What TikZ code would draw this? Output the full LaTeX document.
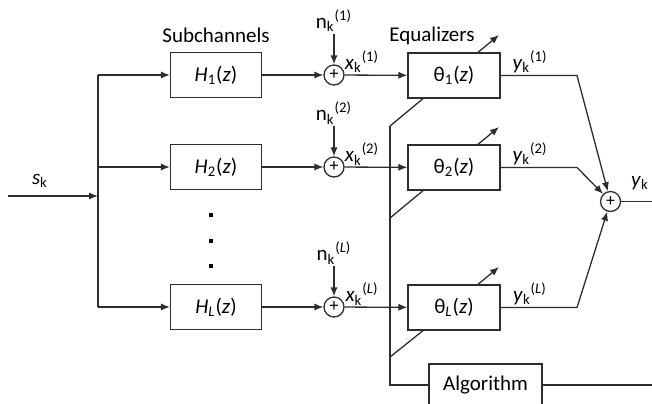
\documentclass[tikz,border=0pt]{standalone}
\usepackage{fontspec}
\setmainfont{Carlito}
\usetikzlibrary{arrows.meta,calc}
\definecolor{lc}{RGB}{45,45,45}
\newcommand{\supk}[1]{\textsubscript{k}\textsuperscript{(#1)}}
\begin{document}
\begin{tikzpicture}[x=0.5pt,y=-0.5pt,
  ln/.style={draw=lc, line width=0.65pt},
  arr/.style={ln, -{Latex[length=4.5pt,width=3.6pt]}},
  blk/.style={draw=lc, line width=0.65pt, minimum width=45.5pt, minimum height=22.5pt, inner sep=0pt, font=\fontsize{10.5}{12}\selectfont},
  sumnode/.style={circle, draw=lc, line width=0.65pt, minimum size=10pt, inner sep=0pt, font=\fontsize{9}{9}\selectfont},
  lbl/.style={inner sep=1pt, font=\fontsize{10.5}{12}\selectfont},
  dotsq/.style={rectangle, fill=black, minimum size=1.9pt, inner sep=0pt}]
\useasboundingbox (0,0) rectangle (652,403);
\clip (0,0) rectangle (652,403);
% input and split
\coordinate (in) at (8,196);
\coordinate (sp) at (98,196);
\coordinate (b1) at (98,75);
\coordinate (b2) at (98,167);
\coordinate (bL) at (98,307);
\node[lbl] (sk) at (40,181) {\textit{s}\textsubscript{k}};
\draw[arr] (in) -- (sp);
\draw[ln] (b1) -- (bL);
% subchannels
\node[lbl] (subch) at (216,35) {Subchannels};
\node[blk] (H1) at (216,75) {\textit{H}\textsubscript{1}(\textit{z})};
\node[blk] (H2) at (216,167) {\textit{H}\textsubscript{2}(\textit{z})};
\node[blk] (HL) at (216,307) {\textit{H}\textsubscript{\textit{L}}(\textit{z})};
\draw[arr] (b1) -- (H1);
\draw[arr] (b2) -- (H2);
\draw[arr] (bL) -- (HL);
\node[dotsq] (d1) at (211,215) {};
\node[dotsq] (d2) at (211,241) {};
\node[dotsq] (d3) at (211,266) {};
% noise adders
\node[sumnode] (s1) at (334,75) {+};
\node[sumnode] (s2) at (334,167) {+};
\node[sumnode] (sL) at (334,307) {+};
\draw[arr] (H1) -- (s1);
\draw[arr] (H2) -- (s2);
\draw[arr] (HL) -- (sL);
\node[lbl] (n1) at (334,21) {n\supk{1}};
\node[lbl] (n2) at (334,113) {n\supk{2}};
\node[lbl] (nL) at (334,253) {n\supk{\textit{L}}};
\draw[arr] (n1) -- (s1);
\draw[arr] (n2) -- (s2);
\draw[arr] (nL) -- (sL);
\node[lbl] (x1) at (362,62) {\textit{x}\supk{1}};
\node[lbl] (x2) at (362,154) {\textit{x}\supk{2}};
\node[lbl] (xL) at (362,294) {\textit{x}\supk{\textit{L}}};
% equalizers
\node[lbl] (eqz) at (432,36) {Equalizers};
\node[blk, minimum width=46pt] (T1) at (454,75.5) {θ\textsubscript{1}(\textit{z})};
\node[blk, minimum width=46pt] (T2) at (454,167.5) {θ\textsubscript{2}(\textit{z})};
\node[blk, minimum width=46pt] (TL) at (454,307.5) {θ\textsubscript{\textit{L}}(\textit{z})};
\draw[arr] (s1) -- (T1);
\draw[arr] (s2) -- (T2);
\draw[arr] (sL) -- (TL);
\coordinate (ad1) at (499,35);
\coordinate (ad2) at (499,127);
\coordinate (adL) at (499,267);
\draw[arr] ($(T1.north)+(24,0)$) -- (ad1);
\draw[arr] ($(T2.north)+(24,0)$) -- (ad2);
\draw[arr] ($(TL.north)+(24,0)$) -- (adL);
% adaptation bus
\coordinate (v1) at (390,126);
\coordinate (v2) at (390,218);
\coordinate (vL) at (390,357);
\draw[ln] ($(T1.south)+(-31,0)$) -- (v1);
\draw[ln] ($(T2.south)+(-31,0)$) -- (v2);
\draw[ln] ($(TL.south)+(-31,0)$) -- (vL);
\node[blk, minimum width=56.5pt, minimum height=21pt] (alg) at (485.5,385) {Algorithm};
\draw[ln] (v1) |- (alg.west);
\coordinate (aout) at (660,385);
\draw[ln] (alg.east) -- (aout);
% combiner
\node[sumnode] (S) at (610.5,201.5) {+};
\coordinate (k1) at (577,75.5);
\coordinate (k2) at (577,167.5);
\coordinate (kL) at (577,307.5);
\draw[arr] (T1.east) -- (k1) -- (S);
\draw[arr] (T2.east) -- (k2) -- (S);
\draw[arr] (TL.east) -- (kL) -- (S);
\node[lbl] (y1) at (530,62) {\textit{y}\supk{1}};
\node[lbl] (y2) at (530,154) {\textit{y}\supk{2}};
\node[lbl] (yL) at (530,294) {\textit{y}\supk{\textit{L}}};
\coordinate (out) at (660,201.5);
\draw[ln] (S) -- (out);
\node[lbl] (yk) at (640,183) {\textit{y}\textsubscript{k}};
\end{tikzpicture}
\end{document}
